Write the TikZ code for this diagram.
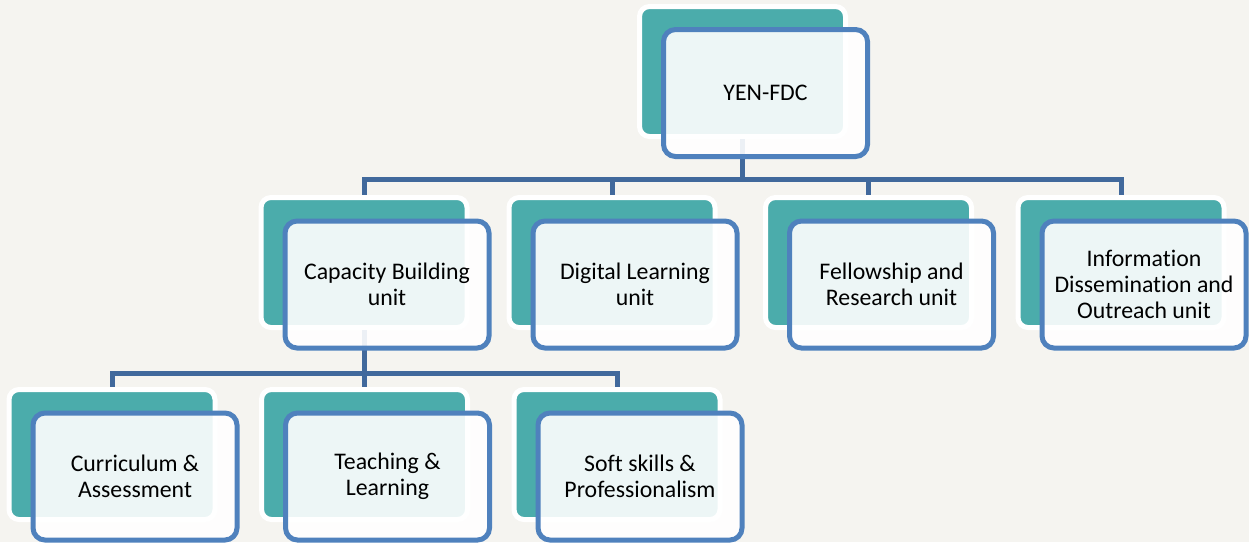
\documentclass[tikz,border=0pt]{standalone}
\usepackage{fontspec}
\setmainfont[Ligatures=NoCommon]{Carlito}
\usepackage{tikz}

\definecolor{paper}{HTML}{F5F4F0}
\definecolor{tealbox}{HTML}{4BACAB}
\definecolor{unitblue}{HTML}{4F81BD}
\definecolor{linkblue}{HTML}{41699C}

\begin{document}
\begin{tikzpicture}[x=1pt,y=-1pt,
  back/.style={fill=tealbox,draw=white,line width=5pt,rounded corners=10pt,
    minimum width=206pt,minimum height=130pt,inner sep=0pt},
  unit/.style={fill=white,fill opacity=0.9,text opacity=1,draw=unitblue,
    line width=5pt,rounded corners=12pt,minimum width=204pt,minimum height=127pt,
    inner sep=0pt,align=center,font=\fontsize{23.8}{26}\selectfont},
  link/.style={draw=linkblue,line width=5pt}]
  \useasboundingbox[fill=paper] (0,0) rectangle (1249,542);
  %\draw (0,0) grid[step=100] (1249,542);

  % teal backs
  \node[back] (topB) at (742.5,71.5) {};
  \node[back] (capB) at (364,262.5) {};
  \node[back] (digB) at (612,262.5) {};
  \node[back] (felB) at (868.5,262.5) {};
  \node[back] (infB) at (1121,262.5) {};
  \node[back] (curB) at (112,454.5) {};
  \node[back] (teaB) at (364.5,454.5) {};
  \node[back] (sofB) at (617,454.5) {};

  % links
  \coordinate (topFork) at ([yshift=-40pt]topB.south);
  \coordinate (capFork) at ([yshift=-43pt]capB.south);
  \foreach \n in {capB,digB,felB,infB}
    \draw[link] (topB.south) -- (topFork) -| (\n.north);
  \foreach \n in {curB,teaB,sofB}
    \draw[link] (capB.south) -- (capFork) -| (\n.north);

  % fronts
  \node[unit,xshift=23pt,yshift=-21.5pt] (top) at (topB) {YEN-FDC};
  \node[unit,xshift=23pt,yshift=-22pt] (cap) at (capB) {Capacity Building\\unit};
  \node[unit,xshift=23pt,yshift=-22pt] (dig) at (digB) {Digital Learning\\unit};
  \node[unit,xshift=23pt,yshift=-22pt] (fel) at (felB) {Fellowship and\\Research unit};
  \node[unit,xshift=23pt,yshift=-22pt] (inf) at (infB) {Information\\Dissemination and\\Outreach unit};
  \node[unit,xshift=23pt,yshift=-22pt] (cur) at (curB) {Curriculum \&\\Assessment};
  \node[unit,xshift=23pt,yshift=-22pt] (tea) at (teaB) {Teaching \&\\Learning};
  \node[unit,xshift=23pt,yshift=-22pt] (sof) at (sofB) {Soft skills \&\\Professionalism};
\end{tikzpicture}
\end{document}
